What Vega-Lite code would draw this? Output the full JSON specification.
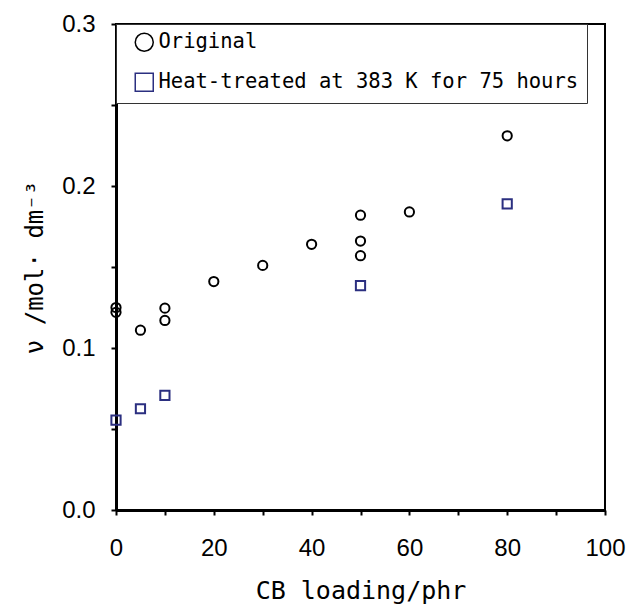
{
  "$schema": "https://vega.github.io/schema/vega-lite/v6.json",
  "width": 489,
  "height": 486,
  "autosize": {"type": "none"},
  "padding": {"left": 116, "top": 24, "right": 34, "bottom": 98},
  "background": "white",
  "config": {
    "view": {"stroke": "black", "strokeWidth": 2},
    "legend": {
      "orient": "none",
      "legendX": 0,
      "legendY": 0,
      "padding": 8,
      "strokeColor": "#333333",
      "fillColor": "white",
      "symbolOffset": 10,
      "symbolSize": 324,
      "symbolStrokeWidth": 1.5,
      "labelFont": "DejaVu Sans Mono",
      "labelFontSize": 20.5,
      "labelColor": "black",
      "labelOffset": 4,
      "labelLimit": 600,
      "rowPadding": 15
    }
  },
  "data": {
    "values": [
      {"cb": 0, "nu": 0.125, "series": "Original"},
      {"cb": 0, "nu": 0.122, "series": "Original"},
      {"cb": 5, "nu": 0.111, "series": "Original"},
      {"cb": 10, "nu": 0.1246, "series": "Original"},
      {"cb": 10, "nu": 0.117, "series": "Original"},
      {"cb": 20, "nu": 0.141, "series": "Original"},
      {"cb": 30, "nu": 0.151, "series": "Original"},
      {"cb": 40, "nu": 0.164, "series": "Original"},
      {"cb": 50, "nu": 0.182, "series": "Original"},
      {"cb": 50, "nu": 0.166, "series": "Original"},
      {"cb": 50, "nu": 0.157, "series": "Original"},
      {"cb": 60, "nu": 0.184, "series": "Original"},
      {"cb": 80, "nu": 0.231, "series": "Original"},
      {"cb": 0, "nu": 0.0555, "series": "Heat-treated at 383 K for 75 hours"},
      {"cb": 5, "nu": 0.0625, "series": "Heat-treated at 383 K for 75 hours"},
      {"cb": 10, "nu": 0.0707, "series": "Heat-treated at 383 K for 75 hours"},
      {"cb": 50, "nu": 0.1385, "series": "Heat-treated at 383 K for 75 hours"},
      {"cb": 80, "nu": 0.189, "series": "Heat-treated at 383 K for 75 hours"}
    ]
  },
  "mark": {"type": "point", "filled": false, "strokeWidth": 2, "size": 85, "opacity": 1, "clip": false},
  "encoding": {
    "x": {
      "field": "cb",
      "type": "quantitative",
      "scale": {"domain": [0, 100], "nice": false, "zero": false},
      "axis": {
        "title": "CB loading/phr",
        "values": [0, 10, 20, 30, 40, 50, 60, 70, 80, 90, 100],
        "labelExpr": "datum.value % 20 == 0 ? datum.label : ''",
        "grid": false,
        "domainColor": "black",
        "domainWidth": 3,
        "tickColor": "black",
        "tickWidth": 2,
        "tickSize": 5,
        "labelFont": "Liberation Sans",
        "labelFontSize": 24,
        "labelColor": "black",
        "labelPadding": 21,
        "labelFlush": false,
        "labelOverlap": false,
        "titleFont": "DejaVu Sans Mono",
        "titleFontSize": 25,
        "titleFontWeight": "normal",
        "titleColor": "black",
        "titlePadding": 18
      }
    },
    "y": {
      "field": "nu",
      "type": "quantitative",
      "scale": {"domain": [0, 0.3], "nice": false},
      "axis": {
        "title": "ν /mol· dm⁻³",
        "values": [0, 0.05, 0.1, 0.15, 0.2, 0.25, 0.3],
        "labelExpr": "round(datum.value * 100) % 10 == 0 ? format(datum.value, '.1f') : ''",
        "grid": false,
        "domainColor": "black",
        "domainWidth": 3,
        "tickColor": "black",
        "tickWidth": 2,
        "tickSize": 5,
        "labelFont": "Liberation Sans",
        "labelFontSize": 24,
        "labelColor": "black",
        "labelPadding": 16,
        "labelFlush": false,
        "labelOverlap": false,
        "titleFont": "DejaVu Sans Mono",
        "titleFontSize": 24,
        "titleFontWeight": "normal",
        "titleColor": "black",
        "titlePadding": 14
      }
    },
    "shape": {
      "field": "series",
      "type": "nominal",
      "scale": {"domain": ["Original", "Heat-treated at 383 K for 75 hours"], "range": ["circle", "square"]},
      "legend": {"title": null}
    },
    "color": {
      "field": "series",
      "type": "nominal",
      "scale": {"domain": ["Original", "Heat-treated at 383 K for 75 hours"], "range": ["#000000", "#2b2f80"]},
      "legend": {"title": null}
    }
  }
}
